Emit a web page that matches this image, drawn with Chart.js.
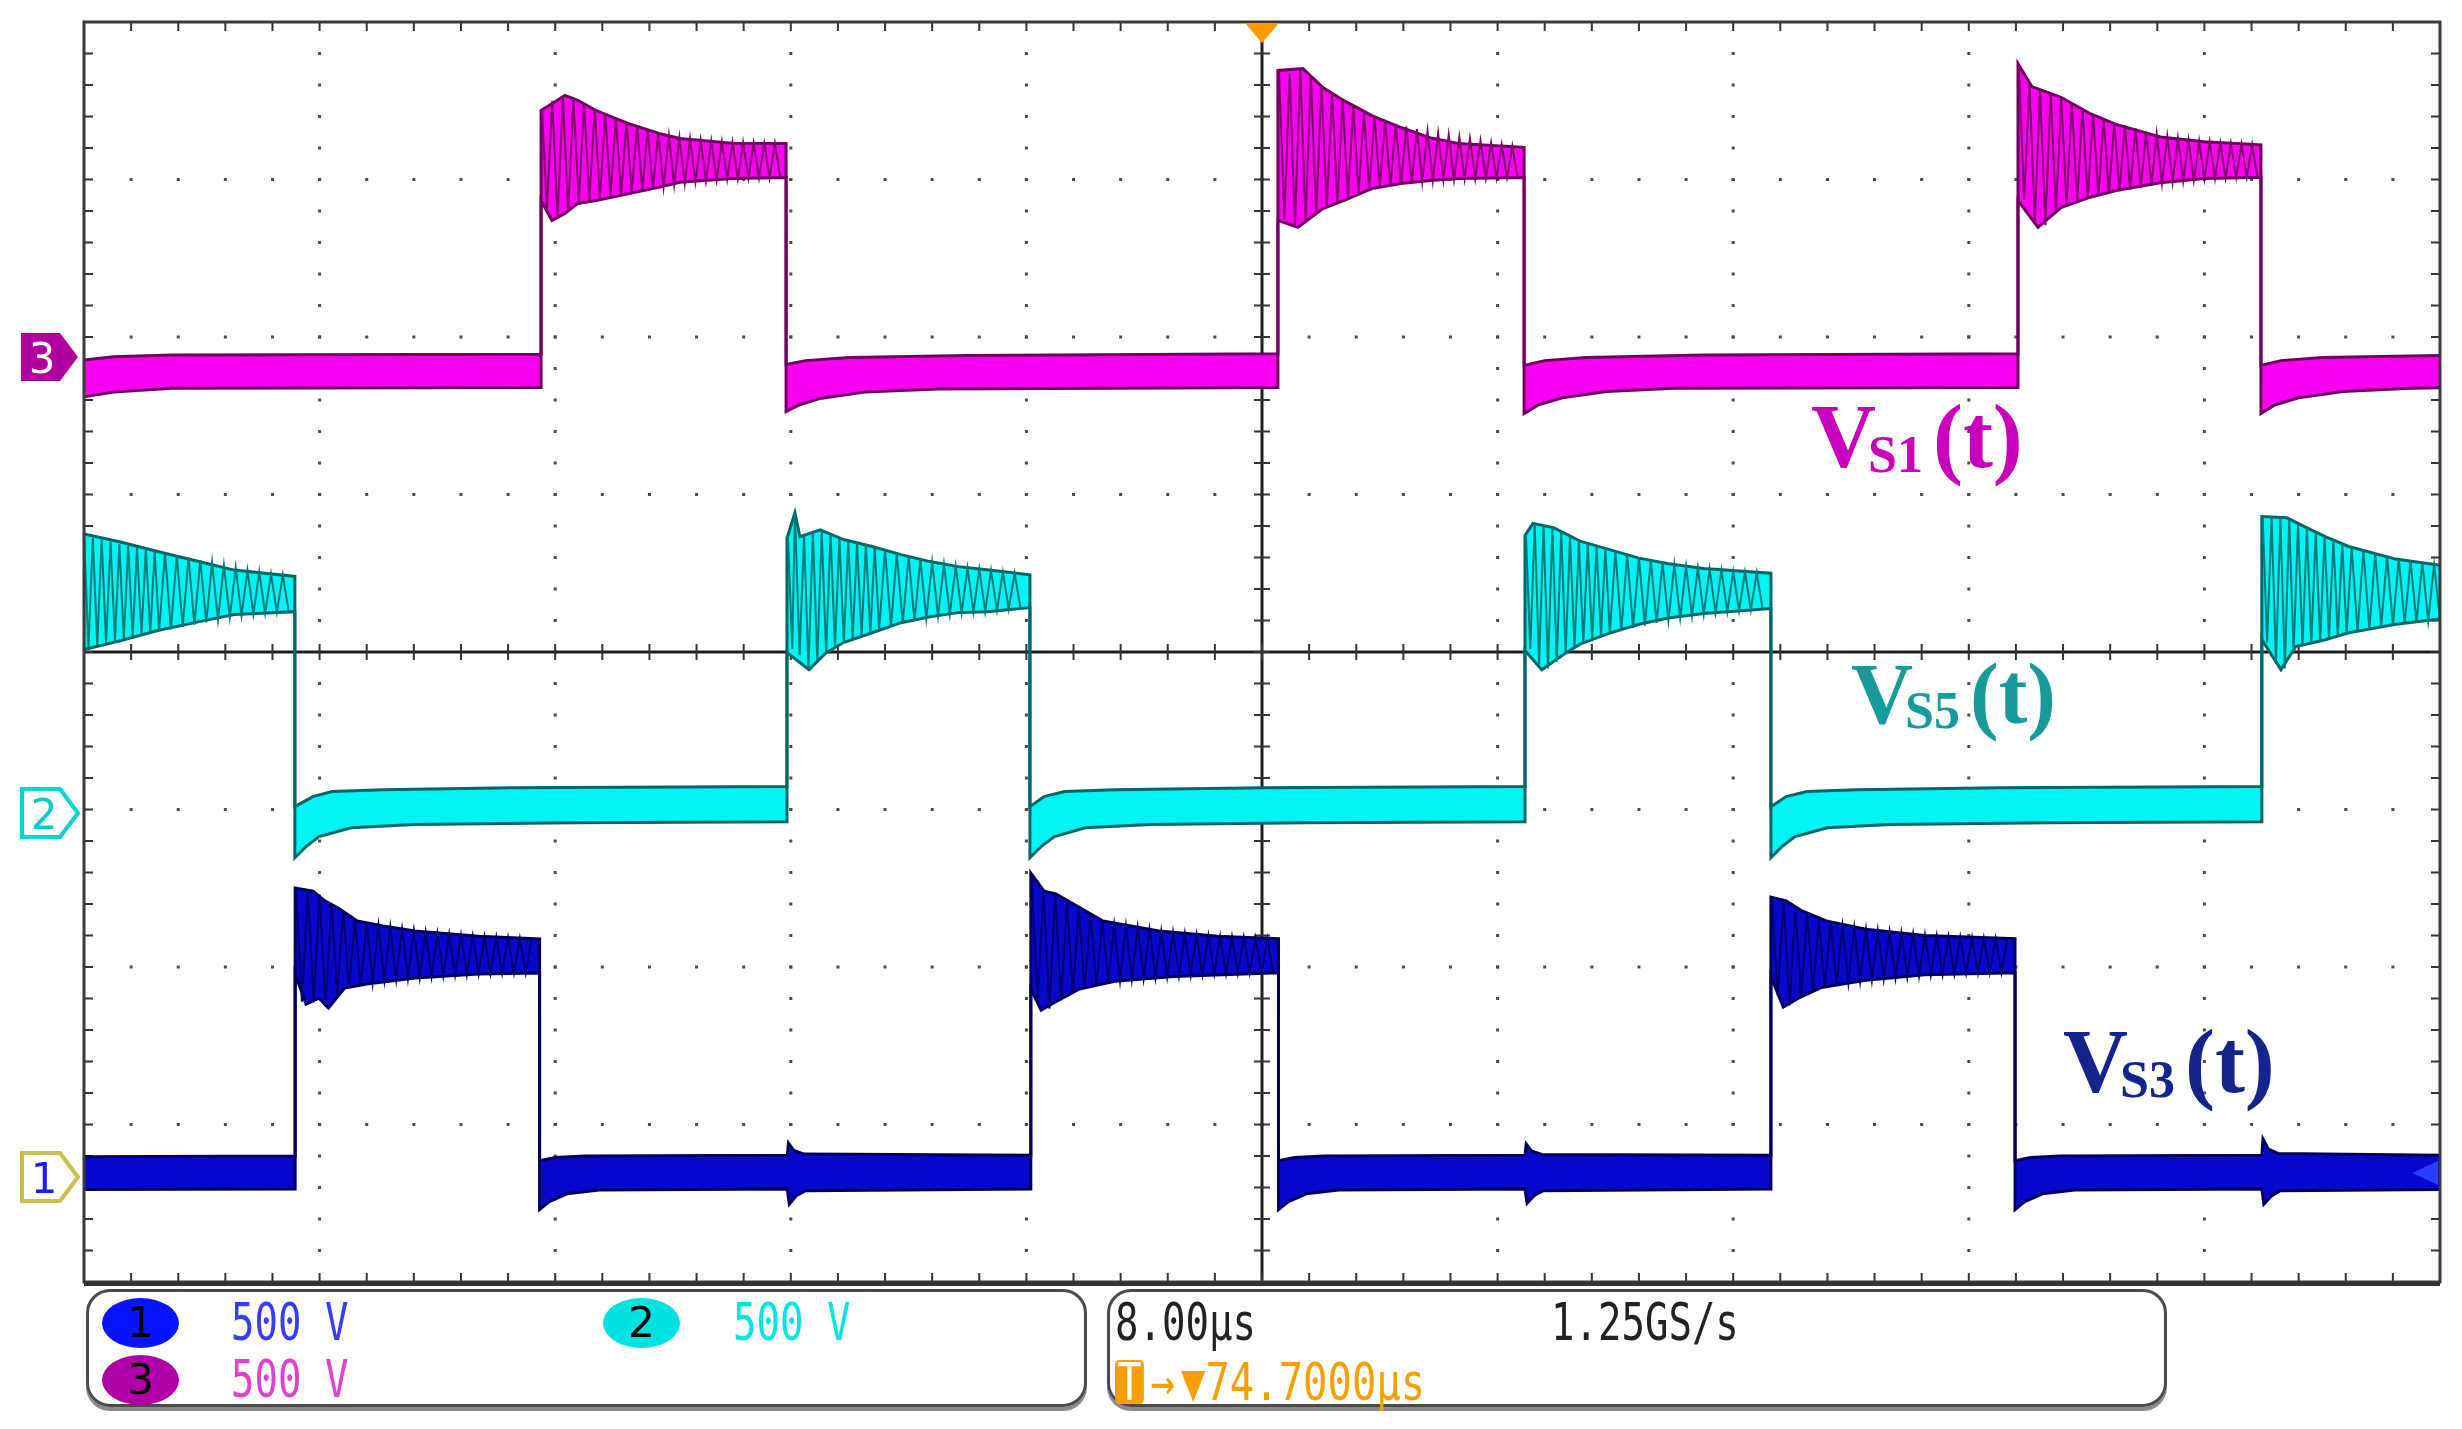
<!DOCTYPE html>
<html>
<head>
<meta charset="utf-8">
<script src="https://cdn.jsdelivr.net/npm/chart.js@4.4.1/dist/chart.umd.min.js"></script>
<style>
  html, body { margin: 0; padding: 0; background: #fff; }
  #wrap { position: absolute; left: 0; top: 0; width: 2462px; height: 1429px; }
  .lbl { position: absolute; font-family: "Liberation Serif", serif; font-weight: bold; line-height: 1; white-space: nowrap; }
  .lbl .sub { font-size: 52px; position: relative; top: 5px; margin-left: -8px; margin-right: 10px; }
  .box { position: absolute; top: 1289px; height: 118px; box-sizing: border-box; border: 3px solid #4a4a4a; border-radius: 24px; box-shadow: 0 4px 0 #8a8a8a; }
  .mono { position: absolute; font-family: "DejaVu Sans Mono", monospace; font-size: 52px; line-height: 1; white-space: nowrap; transform: scaleX(0.75); transform-origin: 0 0; }
  .badge { position: absolute; width: 77px; height: 50px; border-radius: 50%; font-family: "DejaVu Sans", sans-serif; font-size: 42px; line-height: 50px; text-align: center; color: #000; }
  .tbox { display: inline-block; background: #f5a000; color: #fff; border-radius: 5px; padding: 0 3px; line-height: 44px; }
  .gap { margin-left: 8px; }
  svg.mk { position: absolute; overflow: visible; }
</style>
</head>
<body>
<div id="wrap"><canvas id="scope"></canvas></div>

<svg class="mk" style="left:20px;top:330px" width="60" height="56">
  <polygon points="1,3 40,3 58,27 40,51 1,51" fill="#b0009e"/>
  <text x="22" y="43" font-family="DejaVu Sans" font-size="42" fill="#fff" text-anchor="middle">3</text>
</svg>
<svg class="mk" style="left:20px;top:786px" width="60" height="56">
  <polygon points="2,3 40,3 58,27 40,51 2,51" fill="#fff" stroke="#00d4d4" stroke-width="4"/>
  <text x="24" y="43" font-family="DejaVu Sans" font-size="42" fill="#00cccc" text-anchor="middle">2</text>
</svg>
<svg class="mk" style="left:20px;top:1150px" width="60" height="56">
  <polygon points="2,3 40,3 58,27 40,51 2,51" fill="#fff" stroke="#c8c048" stroke-width="4"/>
  <text x="24" y="43" font-family="DejaVu Sans" font-size="42" fill="#1a1aff" text-anchor="middle">1</text>
</svg>
<svg class="mk" style="left:2410px;top:1160px" width="30" height="26">
  <polygon points="2,13 28,1 28,25" fill="#2a3cff"/>
</svg>

<div class="lbl" style="left:1811px;top:392px;font-size:90px;color:#c800bc">V<span class="sub">S1</span>(t)</div>
<div class="lbl" style="left:1851px;top:651px;font-size:86px;color:#169a9a">V<span class="sub">S5</span>(t)</div>
<div class="lbl" style="left:2063px;top:1017px;font-size:90px;color:#14248c">V<span class="sub">S3</span>(t)</div>

<div class="box" style="left:86px;width:1001px"></div>
<div class="box" style="left:1107px;width:1060px"></div>

<div class="badge" style="left:102px;top:1298px;background:#0a14ff">1</div>
<div class="badge" style="left:603px;top:1298px;background:#00e2e2">2</div>
<div class="badge" style="left:102px;top:1355px;background:#b000a6">3</div>
<div class="mono" style="left:231px;top:1296px;color:#3b3bff">500 V</div>
<div class="mono" style="left:733px;top:1296px;color:#00e6e6">500 V</div>
<div class="mono" style="left:231px;top:1353px;color:#e040d0">500 V</div>
<div class="mono" style="left:1115px;top:1296px;color:#222">8.00µs</div>
<div class="mono" style="left:1551px;top:1296px;color:#222">1.25GS/s</div>
<div class="mono" style="left:1115px;top:1356px;color:#f5a000;transform:scaleX(0.78)"><span class="tbox">T</span><span class="gap">→</span><span class="gap">▼</span>74.7000µs</div>

<script>
// time in µs across the screen (8 µs/div), values in volts relative to each channel's ground marker
const VOLTS_PER_DIV = 500;
const timeRange = [0, 80];

// channel 3 (magenta) - V_S1, upper and lower edge of the trace
const ch3Upper = [
  [0, -8], [1, 2], [3, 8], [15.52, 10],
  [15.52, 784], [16.33, 832], [16.77, 816], [17.39, 784], [18.47, 743], [19.52, 711], [20.24, 695], [22.0, 680], [23.84, 679],
  [23.84, -22], [24.5, -10], [26, 0], [30, 6], [40.54, 12],
  [40.54, 911], [41.39, 917], [42.07, 857], [42.77, 816], [43.73, 768], [44.72, 730], [45.7, 698], [46.66, 679], [48.9, 667],
  [48.9, -25], [49.6, -10], [51, 0], [55, 8], [65.67, 12],
  [65.67, 933], [66.14, 860], [67.13, 826], [68.1, 775], [69.0, 740], [70.5, 700], [72, 685], [73.92, 675],
  [73.92, -25], [74.6, -10], [76, 0], [80, 6]
];
const ch3Lower = [
  [0, -125], [1, -110], [3, -98], [15.52, -95],
  [15.52, 498], [15.89, 435], [16.33, 457], [16.77, 489], [17.39, 498], [18.47, 520], [19.52, 540], [20.24, 556], [22.0, 568], [23.84, 571],
  [23.84, -172], [24.3, -150], [25, -130], [26.5, -110], [29, -100], [40.54, -95],
  [40.54, 435], [41.22, 413], [42.07, 473], [42.77, 498], [43.73, 536], [44.72, 552], [45.7, 562], [46.66, 568], [48.9, 571],
  [48.9, -178], [49.4, -150], [50.2, -128], [51.7, -108], [54, -98], [65.67, -95],
  [65.67, 498], [66.35, 413], [67.13, 476], [68.1, 508], [69, 530], [70.5, 555], [72, 568], [73.92, 572],
  [73.92, -178], [74.4, -150], [75.2, -128], [76.7, -108], [79, -98], [80, -96]
];
// ringing after each switching edge (peaks and troughs)
const ch3Ringing = [
  [[15.55, 790], [15.72, 470], [15.90, 815], [16.08, 440], [16.26, 830], [16.44, 462], [16.62, 822], [16.80, 488], [16.98, 808], [17.16, 495],
   [17.34, 790], [17.52, 503], [17.70, 775], [17.88, 510], [18.06, 760], [18.24, 516], [18.42, 748], [18.60, 524], [18.78, 735], [18.96, 530],
   [19.14, 722], [19.32, 535], [19.50, 712], [19.68, 541], [19.86, 704], [20.04, 547], [20.22, 698], [20.40, 553], [20.58, 694], [20.76, 557],
   [20.94, 690], [21.12, 560], [21.30, 687], [21.48, 563], [21.66, 685], [21.84, 566], [22.02, 683], [22.20, 567], [22.38, 682], [22.56, 569],
   [22.74, 681], [22.92, 570], [23.10, 680], [23.28, 571], [23.46, 679], [23.64, 571]],
  [[40.58, 905], [40.76, 440], [40.94, 900], [41.12, 418], [41.30, 915], [41.48, 430], [41.66, 895], [41.84, 455], [42.02, 862], [42.20, 478],
   [42.38, 840], [42.56, 490], [42.74, 818], [42.92, 505], [43.10, 798], [43.28, 518], [43.46, 780], [43.64, 532], [43.82, 765], [44.00, 540],
   [44.18, 752], [44.36, 545], [44.54, 742], [44.72, 550], [44.90, 733], [45.08, 554], [45.26, 725], [45.44, 558], [45.62, 718], [45.80, 561],
   [45.98, 712], [46.16, 563], [46.34, 706], [46.52, 565], [46.70, 700], [46.88, 567], [47.06, 695], [47.24, 568], [47.42, 688], [47.60, 569],
   [47.78, 682], [47.96, 570], [48.14, 676], [48.32, 571], [48.50, 671], [48.68, 571]],
  [[65.70, 925], [65.88, 500], [66.06, 870], [66.24, 430], [66.42, 850], [66.60, 420], [66.78, 840], [66.96, 465], [67.14, 825], [67.32, 482],
   [67.50, 808], [67.68, 492], [67.86, 790], [68.04, 505], [68.22, 772], [68.40, 512], [68.58, 758], [68.76, 520], [68.94, 745], [69.12, 528],
   [69.30, 738], [69.48, 533], [69.66, 728], [69.84, 540], [70.02, 718], [70.20, 546], [70.38, 710], [70.56, 552], [70.74, 702], [70.92, 556],
   [71.10, 696], [71.28, 560], [71.46, 691], [71.64, 563], [71.82, 687], [72.00, 566], [72.18, 684], [72.36, 568], [72.54, 681], [72.72, 570],
   [72.90, 679], [73.08, 571], [73.26, 677], [73.44, 572], [73.62, 676], [73.80, 572]]
];

// channel 2 (cyan) - V_S5
const ch2Upper = [
  [0, 885], [1.2, 860], [2.5, 829], [4, 795], [5.1, 770], [7.16, 750],
  [7.16, 19], [7.77, 51], [8.42, 67], [10.15, 73], [14.5, 79], [23.87, 83],
  [23.87, 870], [24.14, 952], [24.31, 876], [25.0, 898], [25.79, 867], [26.76, 845], [27.74, 819], [28.73, 797], [29.68, 781], [30.66, 771], [32.12, 755],
  [32.12, 19], [32.6, 51], [33.3, 67], [35, 73], [40, 79], [48.93, 83],
  [48.93, 880], [49.2, 918], [49.9, 905], [50.8, 862], [51.8, 835], [52.8, 808], [53.8, 790], [55, 775], [57.28, 760],
  [57.28, 19], [57.8, 51], [58.5, 67], [60.2, 73], [65, 79], [73.95, 83],
  [73.95, 940], [74.8, 936], [75.4, 908], [76.1, 876], [76.9, 845], [78.5, 805], [80, 785]
];
const ch2Lower = [
  [0, 518], [1.2, 545], [2.5, 578], [4, 608], [5.1, 629], [7.16, 638],
  [7.16, -143], [7.54, -108], [7.98, -76], [9.07, -48], [11.2, -38], [16.6, -32], [23.87, -29],
  [23.87, 508], [24.62, 454], [25.2, 508], [25.79, 540], [26.76, 571], [27.74, 603], [28.73, 622], [29.68, 635], [30.66, 638], [32.12, 651],
  [32.12, -143], [32.5, -108], [32.95, -76], [34, -48], [36.2, -38], [41.5, -32], [48.93, -29],
  [48.93, 515], [49.5, 454], [50.2, 500], [50.8, 535], [51.8, 570], [52.8, 598], [53.8, 618], [55, 632], [57.28, 648],
  [57.28, -143], [57.65, -108], [58.1, -76], [59.2, -48], [61.3, -38], [66.7, -32], [73.95, -29],
  [73.95, 549], [74.6, 454], [75.1, 527], [76.1, 549], [76.9, 571], [78.5, 598], [80, 615]
];
const ch2Ringing = [
  [[0.00, 880], [0.15, 525], [0.30, 872], [0.45, 532], [0.60, 866], [0.75, 538], [0.90, 860], [1.05, 545], [1.20, 852],
   [1.35, 552], [1.50, 846], [1.65, 558], [1.80, 840], [1.95, 565], [2.10, 835], [2.25, 570], [2.40, 830], [2.55, 576],
   [2.75, 825], [2.95, 582], [3.15, 818], [3.35, 590], [3.55, 810], [3.75, 597], [3.95, 802], [4.15, 604], [4.35, 794], [4.55, 612],
   [4.75, 786], [4.95, 620], [5.15, 778], [5.35, 625], [5.55, 770], [5.75, 630], [5.95, 764], [6.15, 633], [6.35, 758], [6.55, 636],
   [6.75, 754], [6.95, 638]],
  [[23.90, 880], [24.05, 520], [24.14, 950], [24.30, 500], [24.45, 880], [24.60, 458], [24.75, 892], [24.90, 480], [25.05, 895], [25.20, 508], [25.35, 885],
   [25.50, 525], [25.65, 872], [25.80, 540], [25.95, 864], [26.10, 552], [26.25, 857], [26.40, 560], [26.55, 850], [26.70, 570], [26.85, 843], [27.00, 580],
   [27.2, 836], [27.4, 590], [27.6, 824], [27.8, 600], [28.0, 814], [28.2, 608], [28.4, 804], [28.6, 616], [28.8, 796], [29.0, 624],
   [29.2, 789], [29.4, 630], [29.6, 782], [29.8, 634], [30.0, 777], [30.2, 636], [30.4, 773], [30.6, 638], [30.8, 769], [31.0, 642],
   [31.2, 764], [31.4, 646], [31.6, 760], [31.8, 649]],
  [[48.96, 885], [49.11, 520], [49.26, 915], [49.41, 470], [49.56, 912], [49.71, 458], [49.86, 905], [50.01, 478], [50.16, 890], [50.31, 505],
   [50.46, 878], [50.61, 522], [50.76, 864], [50.91, 538], [51.06, 855], [51.21, 550], [51.36, 846], [51.51, 560], [51.66, 838], [51.81, 570],
   [52.0, 830], [52.2, 578], [52.4, 820], [52.6, 586], [52.8, 810], [53.0, 594], [53.2, 802], [53.4, 602], [53.6, 794], [53.8, 610],
   [54.0, 788], [54.2, 618], [54.4, 782], [54.6, 624], [54.8, 777], [55.0, 630], [55.2, 773], [55.4, 635], [55.6, 770], [55.8, 638],
   [56.0, 767], [56.2, 641], [56.4, 764], [56.6, 644], [56.8, 762], [57.0, 646]],
  [[73.98, 935], [74.13, 540], [74.28, 938], [74.43, 480], [74.58, 936], [74.73, 458], [74.88, 932], [75.03, 510], [75.18, 918], [75.33, 528],
   [75.48, 904], [75.63, 535], [75.78, 890], [75.93, 545], [76.08, 877], [76.23, 552], [76.38, 866], [76.53, 560], [76.68, 854], [76.83, 568],
   [77.0, 842], [77.2, 575], [77.4, 834], [77.6, 582], [77.8, 824], [78.0, 588], [78.2, 815], [78.4, 594], [78.6, 806], [78.8, 600],
   [79.0, 800], [79.2, 604], [79.4, 794], [79.6, 609], [79.8, 788], [80.0, 612]]
];

// channel 1 (blue) - V_S3
const ch1Upper = [
  [0, 68], [7.17, 70],
  [7.17, 921], [7.78, 911], [8.19, 879], [8.63, 857], [9.28, 816], [10.15, 800], [11.24, 784], [13.4, 768], [15.47, 759],
  [15.47, 55], [16, 65], [17, 70], [23.88, 72], [23.92, 111], [24.1, 88], [24.45, 76], [32.15, 72],
  [32.15, 968], [32.6, 911], [33.0, 902], [34.6, 816], [36.5, 784], [38.5, 768], [40.56, 760],
  [40.56, 55], [41.1, 65], [42.1, 70], [48.93, 72], [48.97, 108], [49.15, 86], [49.5, 75], [57.28, 72],
  [57.28, 892], [57.8, 880], [58.3, 850], [59.2, 815], [60.5, 790], [62.5, 770], [65.57, 760],
  [65.57, 55], [66.1, 65], [67.1, 70], [73.95, 72], [73.99, 124], [74.17, 92], [74.5, 78], [80, 72]
];
const ch1Lower = [
  [0, -36], [7.17, -35],
  [7.17, 648], [7.54, 552], [7.98, 571], [8.3, 540], [8.85, 603], [9.6, 616], [11.24, 635], [13.4, 648], [15.47, 651],
  [15.47, -100], [15.8, -75], [16.4, -50], [17.5, -38], [23.88, -35], [23.95, -83], [24.2, -55], [24.5, -40], [32.15, -35],
  [32.15, 600], [32.5, 533], [33.0, 560], [33.8, 600], [35, 625], [37, 640], [40.56, 652],
  [40.56, -100], [40.9, -75], [41.5, -50], [42.6, -38], [48.93, -35], [49.0, -80], [49.25, -55], [49.55, -40], [57.28, -35],
  [57.28, 640], [57.7, 543], [58.2, 570], [59, 605], [60.5, 628], [62.5, 645], [65.57, 652],
  [65.57, -100], [65.9, -75], [66.5, -50], [67.6, -38], [73.95, -35], [74.02, -83], [74.27, -58], [74.57, -40], [80, -36]
];
const ch1Ringing = [
  [[7.20, 918], [7.40, 560], [7.60, 915], [7.80, 558], [8.00, 900], [8.20, 545], [8.40, 870], [8.60, 585],
   [8.80, 850], [9.00, 605], [9.20, 822], [9.40, 612], [9.60, 810], [9.80, 620], [10.00, 802], [10.20, 628],
   [10.4, 797], [10.6, 630], [10.8, 790], [11.0, 633], [11.2, 786], [11.4, 636], [11.6, 781], [11.8, 639], [12.0, 777], [12.2, 642],
   [12.4, 774], [12.6, 644], [12.8, 771], [13.0, 646], [13.2, 769], [13.4, 648], [13.6, 767], [13.8, 649], [14.0, 765], [14.2, 650],
   [14.4, 763], [14.6, 650], [14.8, 761], [15.0, 651], [15.2, 760]],
  [[32.18, 950], [32.38, 560], [32.58, 915], [32.78, 538], [32.98, 900], [33.18, 565], [33.38, 875], [33.58, 585],
   [33.78, 852], [33.98, 602], [34.18, 835], [34.38, 612], [34.58, 818], [34.78, 620], [34.98, 805], [35.18, 626],
   [35.38, 800], [35.58, 630], [35.78, 795], [35.98, 633], [36.18, 789], [36.38, 636], [36.58, 784], [36.78, 639], [36.98, 780], [37.18, 641],
   [37.38, 776], [37.58, 643], [37.78, 773], [37.98, 646], [38.18, 770], [38.38, 648], [38.58, 768], [38.78, 649], [38.98, 766], [39.18, 650],
   [39.38, 764], [39.58, 651], [39.78, 762], [39.98, 652], [40.18, 761], [40.38, 652]],
  [[57.31, 888], [57.51, 580], [57.71, 882], [57.91, 548], [58.11, 860], [58.31, 572], [58.51, 842],
   [58.71, 590], [58.91, 822], [59.11, 606], [59.31, 812], [59.51, 614], [59.71, 800], [59.91, 620],
   [60.11, 795], [60.31, 625], [60.51, 790], [60.71, 628], [60.91, 786], [61.11, 632], [61.31, 782], [61.51, 635], [61.71, 778], [61.91, 638],
   [62.11, 775], [62.31, 641], [62.51, 772], [62.71, 644], [62.91, 769], [63.11, 646], [63.31, 767], [63.51, 648], [63.71, 765], [63.91, 650],
   [64.11, 763], [64.31, 651], [64.51, 762], [64.71, 652], [64.91, 761], [65.11, 652], [65.31, 760]]
];

// where each channel's ground marker sits, in divisions from screen centre
const ch1Ground = -3.34;
const ch2Ground = -1.02;
const ch3Ground = 1.87;

function toDiv(points, ground) {
  return points.map(([t, v]) => ({ x: t, y: ground + v / VOLTS_PER_DIV }));
}

function band(upper, lower, ground, fillColor, edgeColor) {
  return [
    { data: toDiv(upper, ground), borderColor: edgeColor, borderWidth: 3, fill: false },
    { data: toDiv(lower, ground), borderColor: edgeColor, borderWidth: 3, backgroundColor: fillColor, fill: '-1' }
  ];
}

function ringing(pulses, ground, color) {
  return pulses.map(p => ({ data: toDiv(p, ground), borderColor: color, borderWidth: 2, fill: false, order: -1 }));
}

// scope graticule: 10 x 8 divisions, 5 minor steps each
const graticule = {
  id: 'graticule',
  beforeDatasetsDraw(chart) {
    const { ctx, chartArea: a, scales: { x, y } } = chart;
    ctx.save();
    ctx.fillStyle = '#4a4a4a';
    for (let i = 1; i < 10; i++) {
      if (i === 5) continue;
      const px = x.getPixelForValue(i * 8);
      for (let j = 1; j < 40; j++) {
        ctx.fillRect(px - 1.5, y.getPixelForValue(-4 + j * 0.2) - 1.5, 3, 3);
      }
    }
    for (let j = 1; j < 8; j++) {
      if (j === 4) continue;
      const py = y.getPixelForValue(-4 + j);
      for (let i = 1; i < 50; i++) {
        ctx.fillRect(x.getPixelForValue(i * 1.6) - 1.5, py - 1.5, 3, 3);
      }
    }
    const cx = x.getPixelForValue(40), cy = y.getPixelForValue(0);
    ctx.strokeStyle = '#1e1e1e';
    ctx.lineWidth = 3;
    ctx.beginPath();
    ctx.moveTo(cx, a.top); ctx.lineTo(cx, a.bottom);
    ctx.moveTo(a.left, cy); ctx.lineTo(a.right, cy);
    ctx.stroke();
    ctx.lineWidth = 2;
    ctx.strokeStyle = '#333';
    ctx.beginPath();
    for (let j = 1; j < 40; j++) {
      const py = y.getPixelForValue(-4 + j * 0.2);
      ctx.moveTo(cx - 8, py); ctx.lineTo(cx + 8, py);
      ctx.moveTo(a.left, py); ctx.lineTo(a.left + 9, py);
      ctx.moveTo(a.right, py); ctx.lineTo(a.right - 9, py);
    }
    for (let i = 1; i < 50; i++) {
      const px = x.getPixelForValue(i * 1.6);
      ctx.moveTo(px, cy - 8); ctx.lineTo(px, cy + 8);
      ctx.moveTo(px, a.top); ctx.lineTo(px, a.top + 9);
      ctx.moveTo(px, a.bottom); ctx.lineTo(px, a.bottom - 9);
    }
    ctx.stroke();
    ctx.restore();
  },
  afterDatasetsDraw(chart) {
    const { ctx, chartArea: a, scales: { x } } = chart;
    ctx.save();
    ctx.strokeStyle = '#3a3a3a';
    ctx.lineWidth = 3;
    ctx.strokeRect(a.left, a.top, a.right - a.left, a.bottom - a.top);
    ctx.fillStyle = '#333';
    ctx.fillRect(a.left, a.bottom, a.right - a.left, 4);
    // trigger position marker
    const tx = x.getPixelForValue(40);
    ctx.fillStyle = '#ff9a00';
    ctx.beginPath();
    ctx.moveTo(tx - 17, a.top + 1);
    ctx.lineTo(tx + 17, a.top + 1);
    ctx.lineTo(tx, a.top + 21);
    ctx.closePath();
    ctx.fill();
    ctx.restore();
  }
};

const ctx = document.getElementById('scope').getContext('2d');
const scopeChart = new Chart(ctx, {
  type: 'line',
  data: {
    datasets: [
      ...band(ch1Upper, ch1Lower, ch1Ground, '#0808cc', '#00005c'),
      ...band(ch2Upper, ch2Lower, ch2Ground, '#00f4f4', '#006666'),
      ...band(ch3Upper, ch3Lower, ch3Ground, '#f800f0', '#700060'),
      ...ringing(ch1Ringing, ch1Ground, '#000070'),
      ...ringing(ch2Ringing, ch2Ground, '#007a7a'),
      ...ringing(ch3Ringing, ch3Ground, '#820070')
    ]
  },
  options: {
    responsive: true,
    maintainAspectRatio: false,
    animation: false,
    parsing: false,
    layout: { padding: { left: 84, right: 22, top: 22, bottom: 147 } },
    elements: { point: { radius: 0 }, line: { tension: 0 } },
    scales: {
      x: { type: 'linear', min: timeRange[0], max: timeRange[1], display: false },
      y: { type: 'linear', min: -4, max: 4, display: false }
    },
    plugins: { legend: { display: false }, tooltip: { enabled: false } }
  },
  plugins: [graticule]
});
</script>
</body>
</html>
